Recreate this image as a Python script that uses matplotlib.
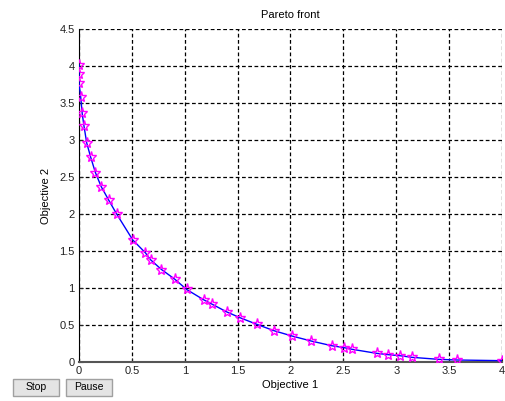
import numpy as np
from matplotlib import pyplot as plt
from matplotlib.patches import Rectangle

plt.rcParams['font.family'] = ['Liberation Sans', 'DejaVu Sans']

# points
obj1 = [0.0, 0.0, 0.0, 0.016, 0.03, 0.047, 0.073, 0.11, 0.155, 0.21, 0.28, 0.356,
        0.508, 0.627, 0.678, 0.78, 0.905, 1.018, 1.18, 1.26, 1.40, 1.52, 1.68,
        1.844, 2.017, 2.194, 2.39, 2.51, 2.585, 2.815, 2.925, 3.035, 3.15,
        3.40, 3.577, 4.0]
obj2 = [4.02, 3.89, 3.77, 3.585, 3.36, 3.19, 2.96, 2.77, 2.56, 2.37, 2.19, 2.0,
        1.65, 1.477, 1.38, 1.25, 1.12, 0.98, 0.84, 0.78, 0.675, 0.60, 0.51,
        0.423, 0.35, 0.284, 0.22, 0.193, 0.171, 0.117, 0.099, 0.085, 0.063,
        0.036, 0.027, 0.018]

xticks = [0, 0.5, 1, 1.5, 2, 2.5, 3, 3.5, 4]
yticks = [0, 0.5, 1, 1.5, 2, 2.5, 3, 3.5, 4, 4.5]

fig = plt.figure(figsize=(5.06, 4.01), dpi=100)
fig.patch.set_facecolor('white')
ax = fig.add_axes([79/506, 1-362/401, (502-79)/506, (362-29)/401])

ax.plot(obj1, obj2, color='blue', lw=1, zorder=3)
ax.plot(obj1, obj2, ls='none', marker='*', ms=8, mfc='none', mec='magenta',
        mew=1, zorder=4)

ax.set_xlim(0, 4)
ax.set_ylim(0, 4.5)
ax.set_xticks(xticks)
ax.set_yticks(yticks)
ax.set_xticklabels(['0', '0.5', '1', '1.5', '2', '2.5', '3', '3.5', '4'])
ax.set_yticklabels(['0', '0.5', '1', '1.5', '2', '2.5', '3', '3.5', '4', '4.5'])
ax.tick_params(direction='in', length=3, labelsize=8, pad=3, colors='#222222')
ax.grid(True, color='black', ls=(0, (3, 2)), lw=0.9)
ax.set_axisbelow(True)

for s in ['top', 'right']:
    ax.spines[s].set_visible(False)
ax.spines['left'].set_color('black')
ax.spines['bottom'].set_color('#555555')
ax.spines['bottom'].set_linewidth(1.5)

ax.set_title('Pareto front', fontsize=8, pad=8)
ax.set_xlabel('Objective 1', fontsize=8, labelpad=3)
ax.set_ylabel('Objective 2', fontsize=8, labelpad=6)

# Stop / Pause buttons
for x0, lbl in [(13, 'Stop'), (66, 'Pause')]:
    r = Rectangle((x0/506, 1-396/401), 46/506, 17/401, transform=fig.transFigure,
                  facecolor='#e4e4e4', edgecolor='#a0a0a0', lw=1)
    fig.patches.append(r)
    fig.text((x0+23)/506, 1-387.5/401, lbl, ha='center', va='center', fontsize=7.5)

fig.savefig('out.png', dpi=100)
